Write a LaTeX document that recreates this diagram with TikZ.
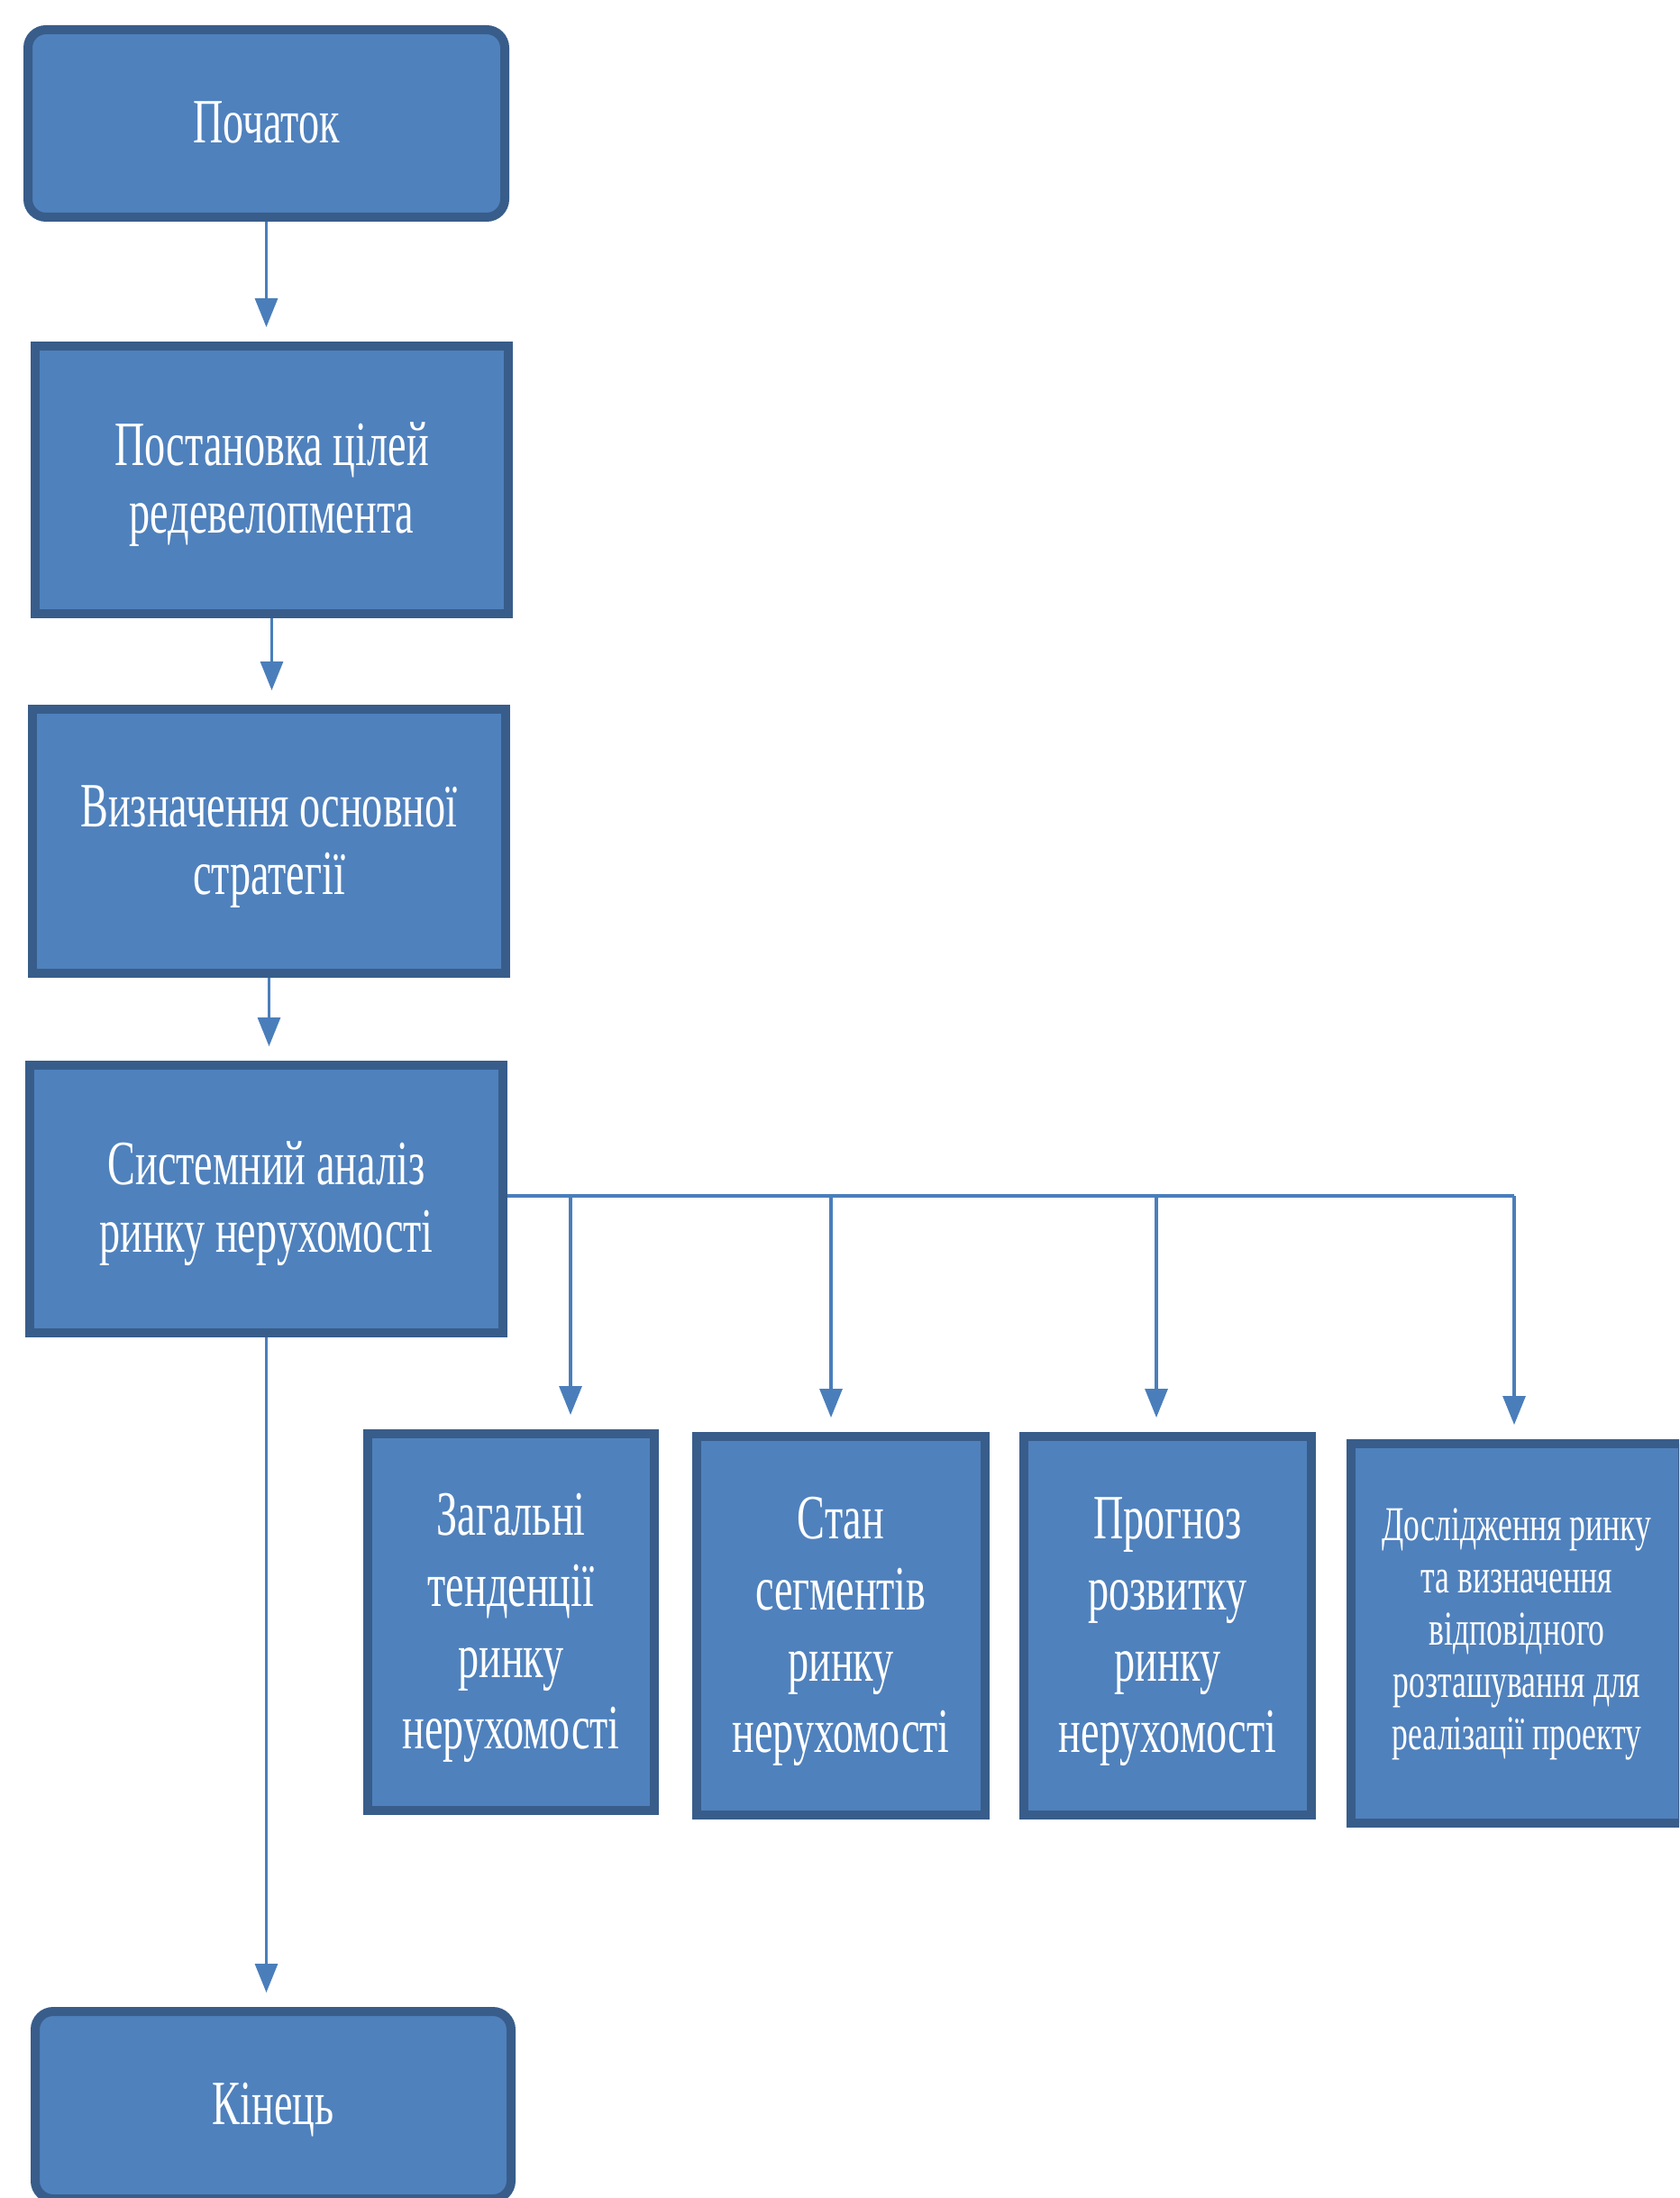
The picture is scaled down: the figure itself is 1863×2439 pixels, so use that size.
\documentclass[tikz,border=0pt]{standalone}
\usepackage{fontspec}
\setmainfont{Liberation Serif}[FakeStretch=0.66]
\usetikzlibrary{arrows.meta,backgrounds}

\definecolor{boxfill}{HTML}{4F81BD}
\definecolor{boxedge}{HTML}{385D8A}
\definecolor{linkcol}{HTML}{4A7EBB}

% fixed reach above the first and below the last line, so that every
% box places its lines the same way whatever the letters in them
\newcommand\bigtop{\rule{0pt}{33.5pt}}
\newcommand\bigbot{\rule[-12pt]{0pt}{12pt}}
\newcommand\smtop{\rule{0pt}{21.5pt}}
\newcommand\smbot{\rule[-9pt]{0pt}{9pt}}

\tikzset{
  blk/.style={rectangle, draw=boxedge, fill=boxfill, line width=5pt,
    text=white, align=center, inner sep=0pt,
    font={\fontsize{35pt}{37.5pt}\selectfont}},
  rnd/.style={blk, rounded corners=10pt},
  tall/.style={blk, font={\fontsize{35pt}{39.5pt}\selectfont}},
  smalltxt/.style={blk, font={\fontsize{27pt}{29pt}\selectfont}},
  conn/.style={draw=linkcol, line width=1.6pt},
  arr/.style={conn, -{Triangle[length=16pt,width=12.5pt]}, shorten >=8pt},
}

\begin{document}
\begin{tikzpicture}[x=0.5pt,y=-0.5pt]
\clip (0,0) rectangle (1863,2439);

% main column
\node[rnd, minimum width=264.5pt, minimum height=104pt] (start) at (295.5,137)
  {\bigtop Початок\bigbot};
\node[blk, minimum width=262.5pt, minimum height=148.5pt] (goals) at (301.5,532.5)
  {\bigtop Постановка цілей\\редевелопмента\bigbot};
\node[blk, minimum width=262.5pt, minimum height=146.5pt] (strat) at (298.5,933.5)
  {\bigtop Визначення основної\\стратегії\bigbot};
\node[blk, minimum width=262.5pt, minimum height=148.5pt] (anal) at (295.5,1330.5)
  {\bigtop Системний аналіз\\ринку нерухомості\bigbot};
\node[rnd, minimum width=264pt, minimum height=104pt] (finish) at (303,2336)
  {\bigtop Кінець\bigbot};

% branch boxes
\node[tall, minimum width=159pt, minimum height=209pt] (b1) at (567,1800)
  {\bigtop Загальні\\тенденції\\ринку\\нерухомості\bigbot};
\node[tall, minimum width=160pt, minimum height=210pt] (b2) at (933,1804)
  {\bigtop Стан\\сегментів\\ринку\\нерухомості\bigbot};
\node[tall, minimum width=159.5pt, minimum height=210pt] (b3) at (1295.5,1804)
  {\bigtop Прогноз\\розвитку\\ринку\\нерухомості\bigbot};
\node[smalltxt, minimum width=184pt, minimum height=210.5pt] (b4) at (1683,1812.5)
  {\smtop Дослідження ринку\\та визначення\\відповідного\\розташування для\\реалізації проекту\smbot};

% branch junctions on the horizontal bus
\coordinate (j1) at (633,1327);
\coordinate (j2) at (922,1327);
\coordinate (j3) at (1283,1327);
\coordinate (j4) at (1680,1327);

\begin{scope}[on background layer]
  \fill[white] (0,0) rectangle (1863,2439);
  \draw[arr] (start.south) -- (start.south |- goals.north);
  \draw[arr] (goals.south) -- (goals.south |- strat.north);
  \draw[arr] (strat.south) -- (strat.south |- anal.north);
  \draw[arr] (anal.south) -- (anal.south |- finish.north);
  \draw[conn, line width=2pt] (anal.east |- j1) -- (j4);
  \draw[arr] (j1) -- (j1 |- b1.north);
  \draw[arr] (j2) -- (j2 |- b2.north);
  \draw[arr] (j3) -- (j3 |- b3.north);
  \draw[arr] (j4) -- (j4 |- b4.north);
\end{scope}
\end{tikzpicture}
\end{document}
